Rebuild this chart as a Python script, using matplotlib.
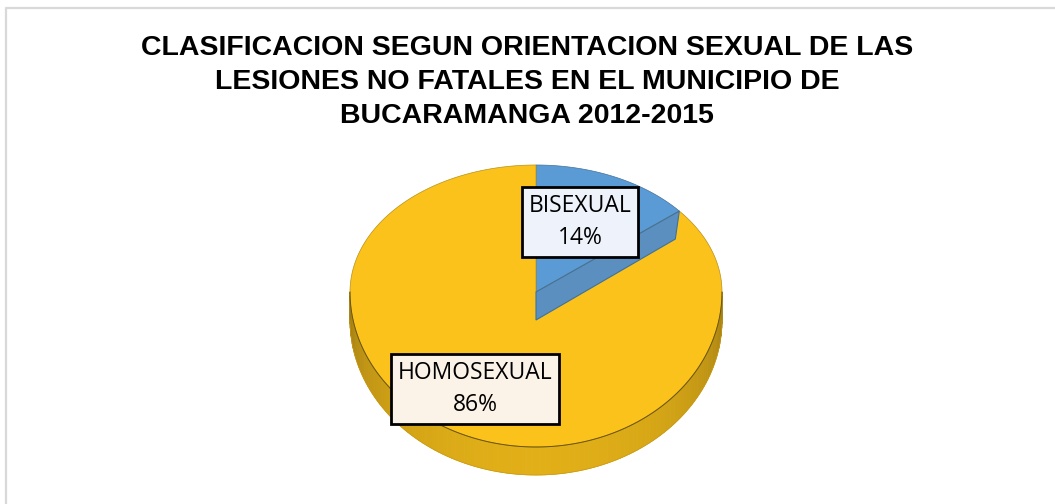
import numpy as np
import matplotlib
matplotlib.use("Agg")
import matplotlib.pyplot as plt
from matplotlib.patches import Polygon

title = "CLASIFICACION SEGUN ORIENTACION SEXUAL DE LAS\nLESIONES NO FATALES EN EL MUNICIPIO DE\nBUCARAMANGA 2012-2015"
categories = ["BISEXUAL", "HOMOSEXUAL"]
values = [14, 86]

W, H = 1055, 504
fig = plt.figure(figsize=(W / 100, H / 100), dpi=100)
ax = fig.add_axes([0, 0, 1, 1])
ax.set_xlim(0, W)
ax.set_ylim(H, 0)
ax.axis("off")

# chart border
ax.plot([6, 6, W + 5], [H + 5, 8, 8], color="#d9d9d9", lw=1.6, solid_capstyle="butt")

ax.text(527, 82, title, ha="center", va="center", fontsize=20.5,
        fontweight="bold", family="Liberation Sans", linespacing=1.4)

cx, cy = 536, 292
rx, ry_b, ry_f = 186, 127, 155
thick = 28

def pt(theta, z=0.0):
    c = np.cos(theta)
    ry = np.where(c > 0, ry_b, ry_f)
    return cx + rx * np.sin(theta), cy - ry * c + z

fracs = np.array(values, dtype=float) / sum(values)
starts = np.concatenate([[0], np.cumsum(fracs)[:-1]]) * 2 * np.pi
ends = np.cumsum(fracs) * 2 * np.pi

top_cols = ["#5b9bd5", "#fac21a"]
face_cols = ["#5a8fbf", "#d9a414"]

# side wall (front half) with shading strips
n = 120
th = np.linspace(np.pi / 2, 3 * np.pi / 2, n + 1)
base = np.array([0xfa, 0xc2, 0x1a]) / 255
for i in range(n):
    a0, a1 = th[i], th[i + 1]
    mid = 0.5 * (a0 + a1)
    shade = 0.62 + 0.28 * np.sin((mid - np.pi / 2)) ** 0.7
    col = np.clip(base * shade, 0, 1)
    x0, y0 = pt(a0)
    x1, y1 = pt(a1)
    poly = [(x0, y0), (x1, y1), (x1, y1 + thick), (x0, y0 + thick)]
    ax.add_patch(Polygon(poly, closed=True, facecolor=col, edgecolor=col, lw=0.6))
xs, ys = pt(th, thick)
ax.plot(xs, ys, color="#c99a12", lw=0.5)

# top faces
for i, (s, e) in enumerate(zip(starts, ends)):
    tt = np.linspace(s, e, 200)
    xs, ys = pt(tt)
    poly = np.column_stack([np.concatenate([[cx], xs]), np.concatenate([[cy], ys])])
    ax.add_patch(Polygon(poly, closed=True, facecolor=top_cols[i],
                         edgecolor="#b8901a" if i else "#41719c", lw=0.5))

# visible cut face of the first slice along its end edge
xe, ye = pt(ends[0])
face = [(cx, cy), (xe, ye), (xe - 4, ye + thick), (cx, cy + thick)]
ax.add_patch(Polygon(face, closed=True, facecolor=face_cols[0], edgecolor="#41719c", lw=0.8))

# front rim line
xs, ys = pt(th)
ax.plot(xs, ys, color="#6b5410", lw=0.7)

# data labels
labels = [f"{c}\n{v}%" for c, v in zip(categories, values)]
label_pos = [(580, 222), (475, 389)]
box_fc = ["#eef3fb", "#fbf3e8"]
for lab, (x, y), fc in zip(labels, label_pos, box_fc):
    ax.text(x, y, lab, ha="center", va="center", fontsize=16.5, family="Open Sans",
            linespacing=1.45,
            bbox=dict(boxstyle="square,pad=0.3", facecolor=fc, edgecolor="black", lw=2))

fig.savefig("out.png", dpi=100)
